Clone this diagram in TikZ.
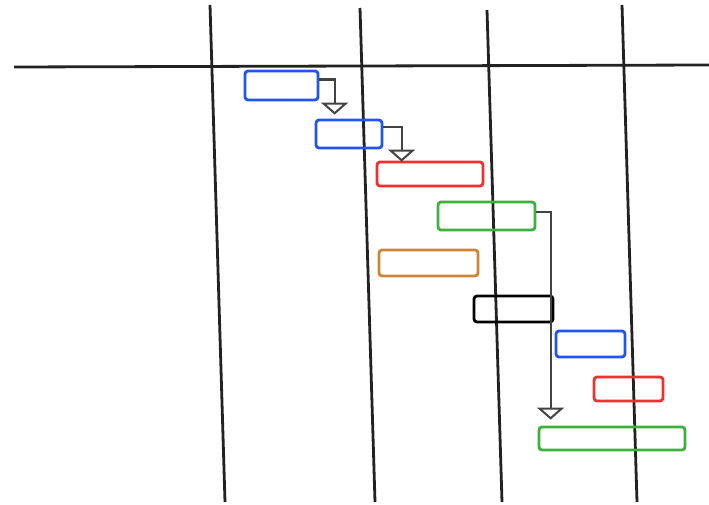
\documentclass[tikz,border=0pt]{standalone}
\usetikzlibrary{arrows.meta}
\definecolor{gblue}{HTML}{2255F0}
\definecolor{gred}{HTML}{F03030}
\definecolor{ggreen}{HTML}{3DB03D}
\definecolor{gorange}{HTML}{CC8435}
\definecolor{gline}{HTML}{222222}
\begin{document}
\begin{tikzpicture}[x=1pt,y=-1pt,
  bar/.style={draw=#1, line width=2.8pt, rounded corners=3pt, inner sep=0pt, fill=none},
  grid/.style={draw=gline, line width=2.8pt},
  dep/.style={draw=gline!85, line width=2.2pt,
    -{Triangle[open, width=27pt, length=12pt, line width=2pt]}}]
\useasboundingbox (0,0) rectangle (709,505);
% grid
\draw[grid] (14,67) -- (709,65);
\draw[grid] (210,5) -- (225,502);
\draw[grid] (360,8) -- (375,502);
\draw[grid] (487,10) -- (502,502);
\draw[grid] (622,5) -- (637,502);
% bars
\node[bar=gblue, minimum width=73pt, minimum height=29pt] (b1) at (281.5,85.5) {};
\node[bar=gblue, minimum width=66pt, minimum height=28pt] (b2) at (349,134) {};
\node[bar=gred, minimum width=106pt, minimum height=24pt] (b3) at (430,174) {};
\node[bar=ggreen, minimum width=97pt, minimum height=28pt] (b4) at (486.5,216) {};
\node[bar=gorange, minimum width=99pt, minimum height=26pt] (b5) at (428.5,263) {};
\node[bar=black, minimum width=79pt, minimum height=26pt] (b6) at (513.5,309) {};
\node[bar=gblue, minimum width=69pt, minimum height=26pt] (b7) at (590.5,344) {};
\node[bar=gred, minimum width=69pt, minimum height=24pt] (b8) at (628.5,389) {};
\node[bar=ggreen, minimum width=146pt, minimum height=23pt] (b9) at (612,438.5) {};
% dependencies
\draw[dep] ([yshift=6pt]b1.east) -| ([xshift=20pt,yshift=4pt]b2.north west);
\draw[dep] ([yshift=7pt]b2.east) -| ([xshift=26pt,yshift=-1pt]b3.north west);
\draw[dep] ([yshift=4pt]b4.east) -| ([xshift=13pt,yshift=6pt]b9.north west);
\end{tikzpicture}
\end{document}
